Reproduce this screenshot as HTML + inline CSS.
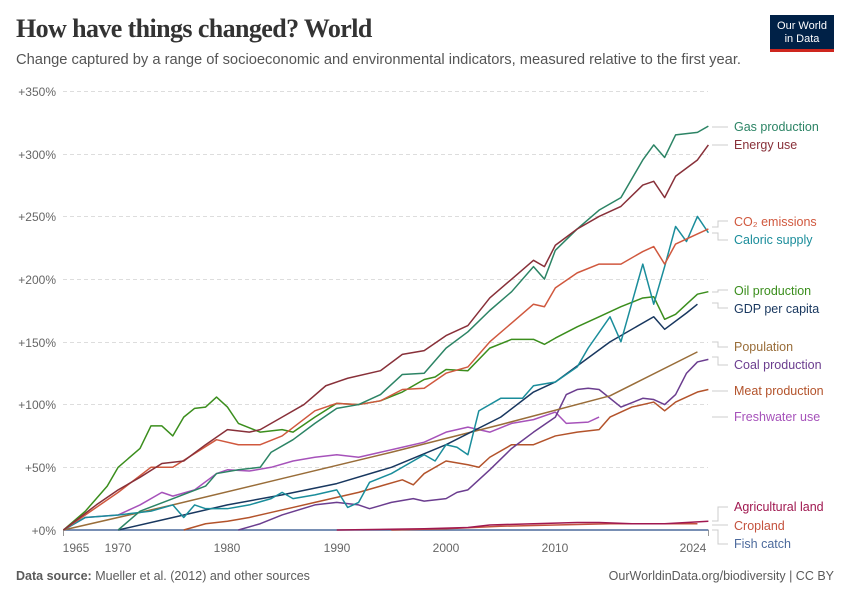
<!DOCTYPE html>
<html><head><meta charset="utf-8"><style>
body{margin:0;background:#fff;width:850px;height:600px;overflow:hidden;font-family:"Liberation Sans",sans-serif;}
.t{position:absolute;left:16px;top:14px;font-family:"Liberation Serif",serif;font-size:26px;font-weight:bold;color:#333;letter-spacing:-0.6px}
.s{position:absolute;left:16px;top:52px;font-size:14.7px;color:#555}
.logo{position:absolute;left:770px;top:15px;width:64px;height:37px;background:#002147;border-bottom:3px solid #ce261e;color:#fff;font-size:11px;text-align:center;line-height:13px;padding-top:5px;box-sizing:border-box}
.f{position:absolute;top:569px;font-size:12.5px;color:#5b5b5b}
</style></head><body>
<div class="t">How have things changed? World</div>
<div class="s">Change captured by a range of socioeconomic and environmental indicators, measured relative to the first year.</div>
<div class="logo">Our World<br>in Data</div>
<div class="f" style="left:16px"><b>Data source:</b> Mueller et al. (2012) and other sources</div>
<div class="f" style="right:16px">OurWorldinData.org/biodiversity | CC BY</div>
<svg width="850" height="600" style="position:absolute;left:0;top:0" font-family="Liberation Sans, sans-serif">
<g stroke="#ddd" stroke-dasharray="4,3" stroke-width="1">
<line x1="63" x2="708" y1="91.5" y2="91.5"/><line x1="63" x2="708" y1="154.5" y2="154.5"/><line x1="63" x2="708" y1="216.5" y2="216.5"/><line x1="63" x2="708" y1="279.5" y2="279.5"/><line x1="63" x2="708" y1="342.5" y2="342.5"/><line x1="63" x2="708" y1="404.5" y2="404.5"/><line x1="63" x2="708" y1="467.5" y2="467.5"/>
</g>
<g font-size="12" fill="#666" text-anchor="end">
<text x="56" y="96">+350%</text><text x="56" y="159">+300%</text><text x="56" y="221">+250%</text><text x="56" y="284">+200%</text><text x="56" y="347">+150%</text><text x="56" y="409">+100%</text><text x="56" y="472">+50%</text><text x="56" y="535">+0%</text>
</g>
<g font-size="12" fill="#666" text-anchor="middle">
<text x="76" y="552">1965</text><text x="118" y="552">1970</text><text x="227" y="552">1980</text><text x="337" y="552">1990</text><text x="446" y="552">2000</text><text x="555" y="552">2010</text><text x="693" y="552">2024</text>
</g>
<g stroke="#999"><line x1="63.5" x2="63.5" y1="530" y2="536"/><line x1="708.5" x2="708.5" y1="530" y2="536"/></g>
<g transform="translate(63.5,530) scale(10.93,-1.2543)" fill="none" stroke-width="1.5" stroke-linejoin="round">
<polyline vector-effect="non-scaling-stroke" stroke="#4c6a9c" points="0,0 59,0"/>
<polyline vector-effect="non-scaling-stroke" stroke="#c4523e" points="30,0 35,1 40,3 45,4 50,5 55,5 58,5"/>
<polyline vector-effect="non-scaling-stroke" stroke="#a01850" points="25,0 33,1 37,2 39,4 43,5 47,6 49,6 52,5 55,5 59,7"/>
<polyline vector-effect="non-scaling-stroke" stroke="#a652ba" points="0,0 2,10 5,12 7,20 9,30 10,27 12,32 14,45 15,48 17,47 19,50 21,55 23,58 25,60 27,58 29,62 31,66 33,70 35,78 37,82 39,78 41,85 43,88 45,94 46,85 48,86 49,90"/>
<polyline vector-effect="non-scaling-stroke" stroke="#b3532b" points="11,0 13,5 15,7 17,10 19,14 21,18 23,22 25,26 27,30 29,35 31,40 32,36 33,45 35,55 37,52 38,50 39,58 41,68 43,68 45,75 47,78 49,80 50,90 52,98 54,102 55,95 56,102 58,110 59,112"/>
<polyline vector-effect="non-scaling-stroke" stroke="#6b3d8f" points="16,0 18,5 20,12 23,20 25,22 27,20 28,17 30,22 32,25 33,23 35,25 36,30 37,32 39,48 41,65 43,78 45,90 46,108 47,112 48,113 49,112 51,98 53,105 54,104 55,100 56,108 57,125 58,134 59,136"/>
<polyline vector-effect="non-scaling-stroke" stroke="#996d39" points="0,0 10,20 20,41 30,62 40,84 50,107 58,142"/>
<polyline vector-effect="non-scaling-stroke" stroke="#18375f" points="5,0 10,10 15,20 20,28 25,37 30,50 35,68 40,90 43,110 45,118 50,150 54,170 55,160 57,173 58,180"/>
<polyline vector-effect="non-scaling-stroke" stroke="#3b8e1d" points="0,0 2,15 4,35 5,50 7,65 8,83 9,83 10,75 11,90 12,97 13,98 14,106 15,98 16,85 18,78 20,80 21,78 23,90 25,101 27,100 29,103 31,110 33,120 34,122 35,128 37,127 39,145 41,152 43,152 44,148 45,153 47,162 49,170 51,178 53,185 54,186 55,168 56,172 57,180 58,188 59,190"/>
<polyline vector-effect="non-scaling-stroke" stroke="#1a8d9b" points="0,0 2,10 5,12 8,15 10,20 11,10 12,20 13,17 15,17 17,20 19,25 20,30 21,25 23,28 25,32 26,18 27,22 28,38 30,45 32,55 33,60 34,55 35,68 36,66 37,60 38,95 40,105 42,105 43,115 45,118 47,130 48,145 50,170 51,150 53,212 54,180 55,210 56,242 57,230 58,250 59,237"/>
<polyline vector-effect="non-scaling-stroke" stroke="#d0583e" points="0,0 5,30 8,50 10,50 14,72 16,68 18,68 20,75 23,95 25,101 27,100 29,103 31,112 33,113 35,125 37,130 39,150 41,165 43,180 44,178 45,193 47,205 49,212 51,212 53,222 54,226 55,212 56,228 58,236 59,240"/>
<polyline vector-effect="non-scaling-stroke" stroke="#2c8465" points="5,0 7,15 10,25 13,35 14,45 16,48 18,50 19,62 21,72 23,85 25,97 27,100 29,108 31,124 33,125 35,145 37,158 39,175 41,190 43,210 44,200 45,223 47,240 49,255 51,265 53,295 54,307 55,297 56,315 58,317 59,322"/>
<polyline vector-effect="non-scaling-stroke" stroke="#883039" points="0,0 3,20 5,32 7,42 9,53 11,55 13,68 15,80 17,78 18,80 20,90 22,100 24,115 26,121 29,127 31,140 33,143 35,155 37,163 39,185 41,200 43,215 44,210 45,227 47,240 49,250 51,258 53,275 54,278 55,265 56,282 58,295 59,307"/>
</g>
<g stroke="#ccc" fill="none">
<path d="M712 127H728M712 145H728M712 227H718V221H728M712 233H718V240H728M712 292H718V290H728M712 303H718V308H728M712 342H718V347H728M712 357H718V365H728M712 391H728M712 417H728M712 521H718V507H728M712 525H728M712 530H718V544H728"/>
</g>
<g font-size="12.5">
<text x="734" y="131" fill="#2c8465">Gas production</text>
<text x="734" y="149" fill="#883039">Energy use</text>
<text x="734" y="226" fill="#d0583e">CO₂ emissions</text>
<text x="734" y="244" fill="#1a8d9b">Caloric supply</text>
<text x="734" y="295" fill="#3b8e1d">Oil production</text>
<text x="734" y="313" fill="#18375f">GDP per capita</text>
<text x="734" y="351" fill="#996d39">Population</text>
<text x="734" y="369" fill="#6b3d8f">Coal production</text>
<text x="734" y="395" fill="#b3532b">Meat production</text>
<text x="734" y="421" fill="#a652ba">Freshwater use</text>
<text x="734" y="511" fill="#a01850">Agricultural land</text>
<text x="734" y="530" fill="#c4523e">Cropland</text>
<text x="734" y="548" fill="#4c6a9c">Fish catch</text>
</g>
</svg>
</body></html>
